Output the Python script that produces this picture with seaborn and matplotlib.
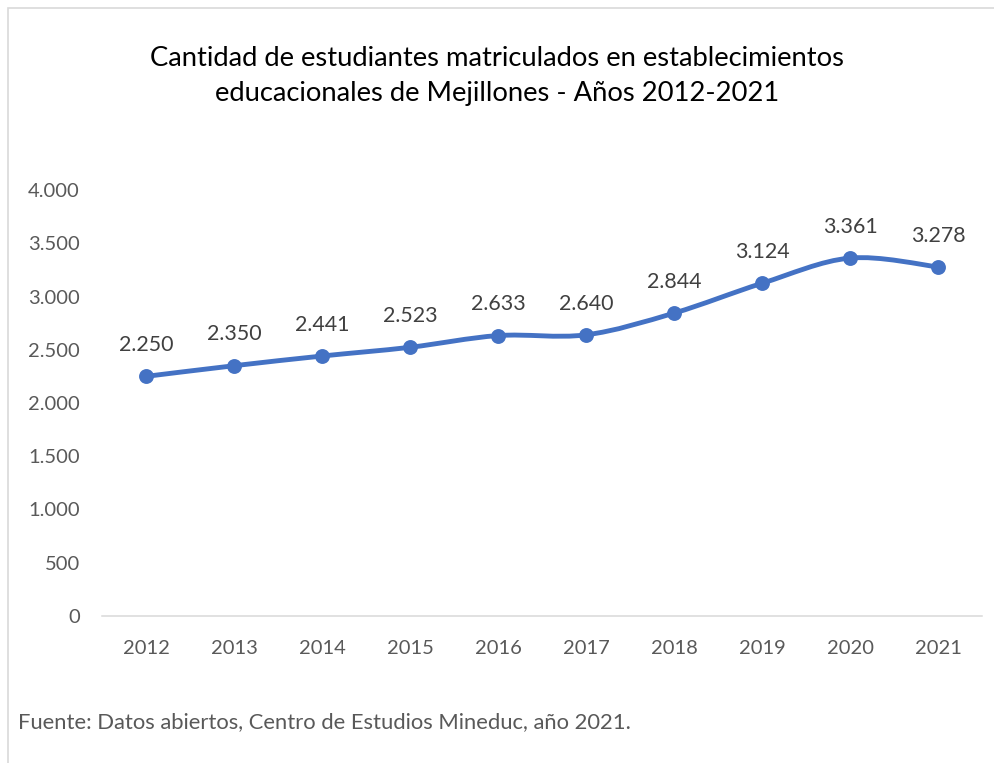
import pandas as pd
import matplotlib.pyplot as plt
import seaborn as sns
from matplotlib.path import Path
from matplotlib.patches import PathPatch, Rectangle

years = ['2012', '2013', '2014', '2015', '2016', '2017', '2018', '2019', '2020', '2021']
students = [2250, 2350, 2441, 2523, 2633, 2640, 2844, 3124, 3361, 3278]
yticks = [0, 500, 1000, 1500, 2000, 2500, 3000, 3500, 4000]

title = 'Cantidad de estudiantes matriculados en establecimientos\neducacionales de Mejillones - Años 2012-2021'
source = 'Fuente: Datos abiertos, Centro de Estudios Mineduc, año 2021.'

blue = '#4472C4'
grey = '#595959'

def fmt(v):
    return '{:,}'.format(v).replace(',', '.')

sns.set_style('white')
plt.rcParams['font.family'] = ['Lato', 'DejaVu Sans']

df = pd.DataFrame({'Año': years, 'Matriculados': students})

fig = plt.figure(figsize=(9.94, 7.63), dpi=100)
ax = fig.add_axes([102 / 994, 1 - 616 / 763, 880 / 994, 426 / 763])

# smoothed line like excel (bezier through the points)
xs = list(range(len(students)))
pts = list(zip(xs, students))
verts = [pts[0]]
codes = [Path.MOVETO]
for i in range(len(pts) - 1):
    p0 = pts[max(i - 1, 0)]
    p1 = pts[i]
    p2 = pts[i + 1]
    p3 = pts[min(i + 2, len(pts) - 1)]
    c1 = (p1[0] + (p2[0] - p0[0]) / 6, p1[1] + (p2[1] - p0[1]) / 6)
    c2 = (p2[0] - (p3[0] - p1[0]) / 6, p2[1] - (p3[1] - p1[1]) / 6)
    verts += [c1, c2, p2]
    codes += [Path.CURVE4, Path.CURVE4, Path.CURVE4]
ax.add_patch(PathPatch(Path(verts, codes), fill=False, edgecolor=blue, lw=3.5,
                       capstyle='round', joinstyle='round', zorder=2))

sns.scatterplot(data=df, x='Año', y='Matriculados', ax=ax, color=blue, s=115,
                edgecolor=blue, linewidth=0, zorder=3)

for x, v in zip(xs, students):
    ax.annotate(fmt(v), (x, v), xytext=(0, 22.5), textcoords='offset points',
                ha='center', va='center', fontsize=15.4, color='#404040')

ax.set_xlim(-0.5, len(years) - 0.5)
ax.set_ylim(0, 4000)
ax.set_yticks(yticks)
ax.set_yticklabels([fmt(t) for t in yticks])
ax.set_xlabel('')
ax.set_ylabel('')
ax.tick_params(axis='both', length=0, labelsize=14.5, labelcolor=grey)
ax.tick_params(axis='y', pad=16)
ax.tick_params(axis='x', pad=17)
for s in ['top', 'right', 'left']:
    ax.spines[s].set_visible(False)
ax.spines['bottom'].set_color('#D9D9D9')
ax.spines['bottom'].set_linewidth(1.1)
ax.grid(False)

fig.text(0.5, 1 - 76 / 763, title, ha='center', va='center', fontsize=19.7,
         color='black', linespacing=1.55)
fig.text(18 / 994, 1 - 722 / 763, source, ha='left', va='center', fontsize=15.8,
         color=grey)

fig.patches.append(Rectangle((8 / 994, -0.1), 1.2, 1 - 8 / 763 + 0.1,
                             transform=fig.transFigure, fill=False,
                             edgecolor='#D9D9D9', lw=1.2))

fig.savefig('out.png', dpi=100)
